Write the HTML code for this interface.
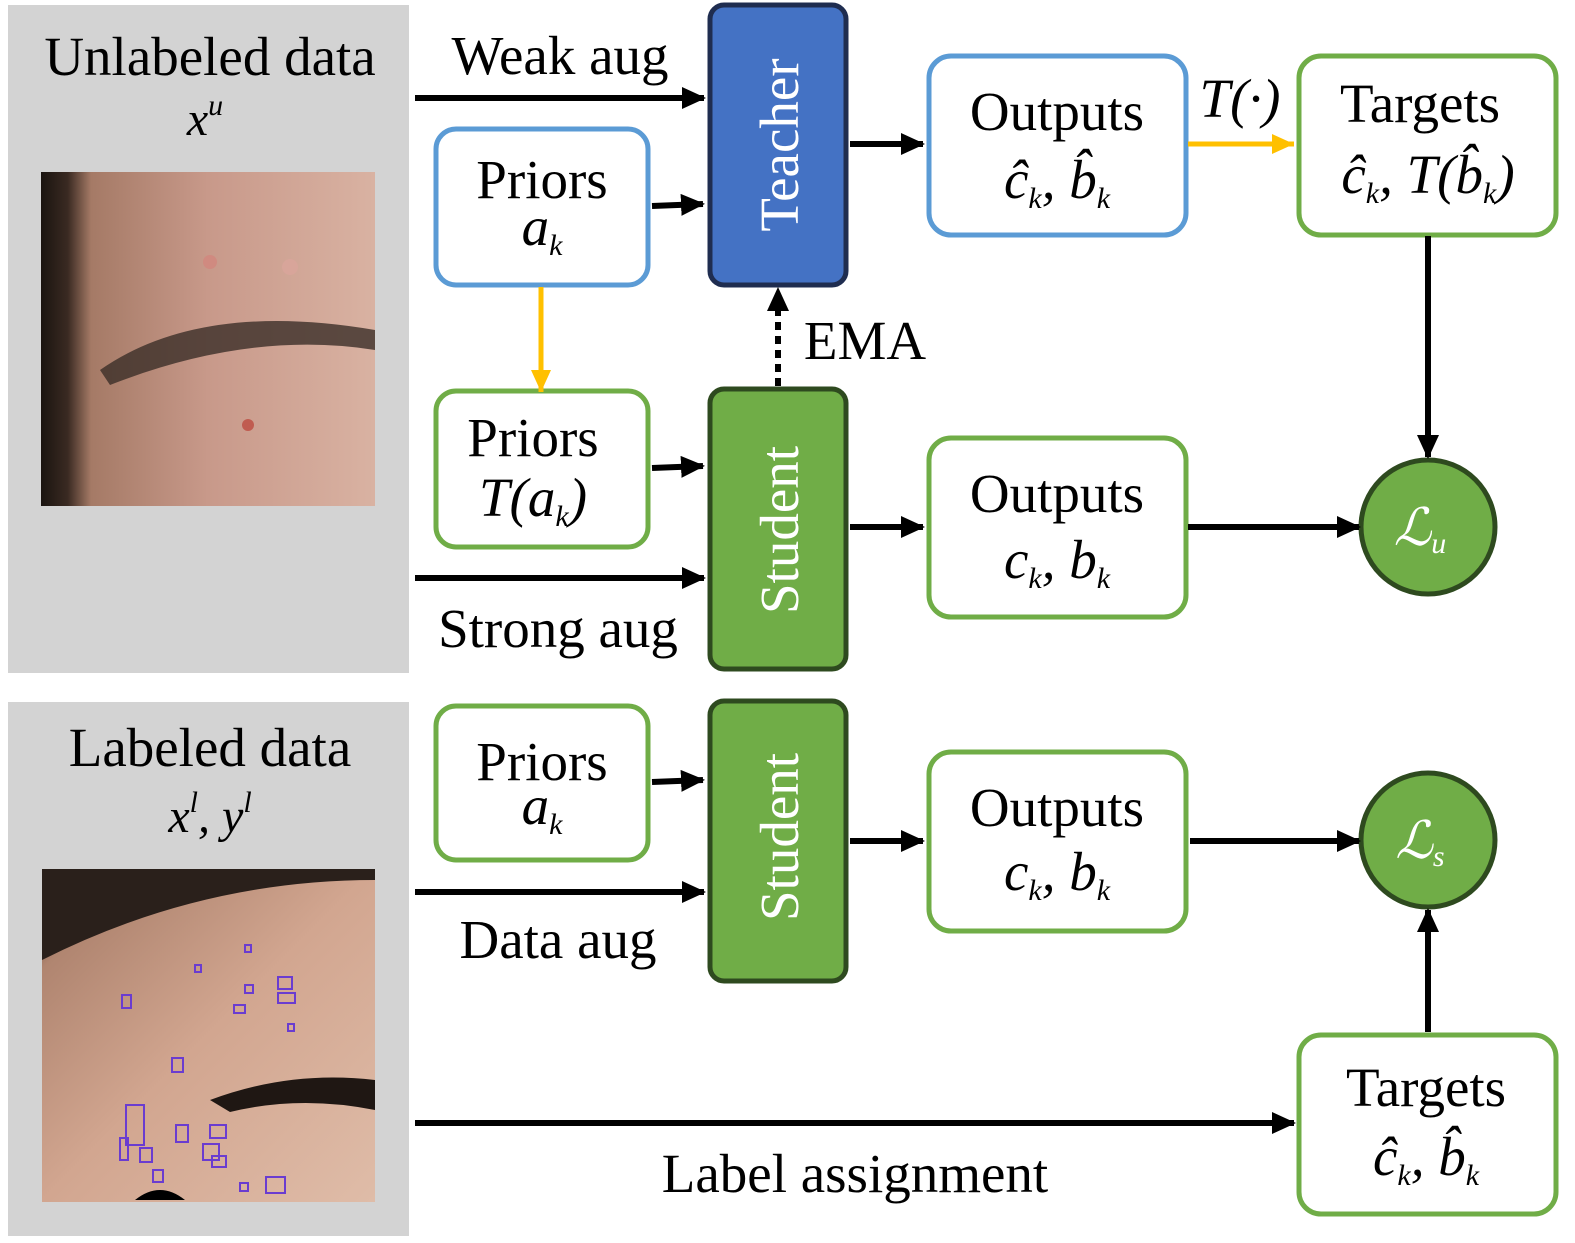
<!DOCTYPE html>
<html><head><meta charset="utf-8"><style>
html,body{margin:0;padding:0;background:#fff;overflow:hidden;width:1575px;height:1243px;}
svg{display:block;}
text{font-family:"Liberation Serif",serif;fill:#000;}
</style></head><body>
<svg width="1575" height="1243" viewBox="0 0 1575 1243" xmlns="http://www.w3.org/2000/svg">
<defs>
<marker id="ab" markerWidth="26" markerHeight="24" refX="22" refY="11" orient="auto" markerUnits="userSpaceOnUse"><path d="M0,0 L24,11 L0,22 z" fill="#000"/></marker>
<marker id="ao" markerWidth="26" markerHeight="24" refX="22" refY="11" orient="auto" markerUnits="userSpaceOnUse"><path d="M0,1 L22,11 L0,21 z" fill="#ffc000"/></marker>
<linearGradient id="skin1" x1="0" y1="0" x2="1" y2="0">
<stop offset="0" stop-color="#1a1410"/><stop offset="0.08" stop-color="#3a2a22"/><stop offset="0.15" stop-color="#a57a66"/><stop offset="0.5" stop-color="#c8998a"/><stop offset="1" stop-color="#d9b2a2"/></linearGradient>
<linearGradient id="skin2" x1="0" y1="0" x2="1" y2="1">
<stop offset="0" stop-color="#3a2a22"/><stop offset="0.15" stop-color="#b08570"/><stop offset="0.5" stop-color="#d2a690"/><stop offset="1" stop-color="#dfbca8"/></linearGradient>
</defs>

<rect x="8" y="5" width="401" height="668" fill="#d3d3d3"/>
<rect x="8" y="702" width="401" height="534" fill="#d3d3d3"/>

<text x="210" y="75" font-size="55" text-anchor="middle">Unlabeled data</text>
<text x="205" y="135" font-size="48" text-anchor="middle" font-style="italic">x<tspan font-size="30" dy="-20">u</tspan></text>
<text x="210" y="766" font-size="55" text-anchor="middle">Labeled data</text>
<text x="210" y="832" font-size="48" text-anchor="middle" font-style="italic">x<tspan font-size="30" dy="-20">l</tspan><tspan dy="20">, y</tspan><tspan font-size="30" dy="-20">l</tspan></text>

<rect x="41" y="172" width="334" height="334" fill="url(#skin1)"/>
<path d="M100,370 Q200,300 375,330 L375,350 Q250,330 110,385 z" fill="#3b2e28" opacity="0.8"/>
<circle cx="210" cy="262" r="7" fill="#d08a80"/><circle cx="290" cy="267" r="8" fill="#d8a59a"/><circle cx="248" cy="425" r="6" fill="#c05c50"/>
<rect x="42" y="869" width="333" height="333" fill="url(#skin2)"/>
<path d="M42,869 L375,869 L375,880 Q200,880 42,960 z" fill="#2a201b"/>
<path d="M210,1100 Q290,1070 375,1080 L375,1110 Q300,1095 230,1112 z" fill="#1f1713"/>
<path d="M135,1200 Q160,1180 185,1200 z" fill="#000"/>
<g fill="none" stroke="#6a3cd0" stroke-width="2">
<rect x="122" y="995" width="9" height="13"/><rect x="172" y="1058" width="11" height="14"/><rect x="126" y="1105" width="18" height="40"/><rect x="120" y="1138" width="8" height="22"/><rect x="140" y="1148" width="12" height="14"/><rect x="176" y="1125" width="12" height="17"/><rect x="210" y="1125" width="16" height="13"/><rect x="203" y="1144" width="16" height="16"/><rect x="212" y="1156" width="14" height="11"/><rect x="153" y="1170" width="10" height="12"/><rect x="266" y="1177" width="19" height="16"/><rect x="240" y="1183" width="8" height="8"/><rect x="278" y="977" width="14" height="12"/><rect x="278" y="993" width="17" height="10"/><rect x="234" y="1005" width="11" height="8"/><rect x="245" y="985" width="8" height="8"/><rect x="245" y="945" width="6" height="7"/><rect x="195" y="965" width="6" height="7"/><rect x="288" y="1024" width="6" height="7"/>
</g>

<g stroke-width="5">
<rect x="710" y="5" width="136" height="280" rx="14" fill="#4472c4" stroke="#1f2d50"/>
<rect x="710" y="389" width="136" height="280" rx="14" fill="#70ad47" stroke="#2e4a1f"/>
<rect x="710" y="701" width="136" height="280" rx="14" fill="#70ad47" stroke="#2e4a1f"/>
<rect x="436" y="129" width="212" height="156" rx="20" fill="#fff" stroke="#5b9bd5"/>
<rect x="436" y="391" width="212" height="156" rx="20" fill="#fff" stroke="#70ad47"/>
<rect x="436" y="706" width="212" height="154" rx="20" fill="#fff" stroke="#70ad47"/>
<rect x="929" y="56" width="257" height="179" rx="22" fill="#fff" stroke="#5b9bd5"/>
<rect x="929" y="438" width="257" height="179" rx="22" fill="#fff" stroke="#70ad47"/>
<rect x="929" y="752" width="257" height="179" rx="22" fill="#fff" stroke="#70ad47"/>
<rect x="1299" y="56" width="257" height="179" rx="22" fill="#fff" stroke="#70ad47"/>
<rect x="1299" y="1035" width="257" height="179" rx="22" fill="#fff" stroke="#70ad47"/>
<circle cx="1428" cy="527" r="67" fill="#70ad47" stroke="#2e4a1f"/>
<circle cx="1428" cy="840" r="67" fill="#70ad47" stroke="#2e4a1f"/>
</g>

<g font-size="55" text-anchor="middle">
<text transform="translate(798,145) rotate(-90)" fill="#fff" style="fill:#fff">Teacher</text>
<text transform="translate(798,530) rotate(-90)" style="fill:#fff">Student</text>
<text transform="translate(798,837) rotate(-90)" style="fill:#fff">Student</text>
</g>
<g font-size="52" text-anchor="middle" font-style="italic">
<text x="1420" y="545" style="fill:#fff">ℒ<tspan font-size="30" dy="8">u</tspan></text>
<text x="1420" y="858" style="fill:#fff">ℒ<tspan font-size="30" dy="8">s</tspan></text>
</g>

<g font-size="55" text-anchor="middle">
<text x="542" y="198">Priors</text>
<text x="542" y="245" font-style="italic">a<tspan font-size="30" dy="10">k</tspan></text>
<text x="533" y="456">Priors</text>
<text x="533" y="516" font-style="italic">T(a<tspan font-size="30" dy="10">k</tspan><tspan dy="-10">)</tspan></text>
<text x="542" y="780">Priors</text>
<text x="542" y="824" font-style="italic">a<tspan font-size="30" dy="10">k</tspan></text>
<text x="1057" y="130">Outputs</text>
<text x="1057" y="198" font-style="italic">ĉ<tspan font-size="30" dy="10">k</tspan><tspan dy="-10">, b̂</tspan><tspan font-size="30" dy="10">k</tspan></text>
<text x="1057" y="512">Outputs</text>
<text x="1057" y="578" font-style="italic">c<tspan font-size="30" dy="10">k</tspan><tspan dy="-10">,  b</tspan><tspan font-size="30" dy="10">k</tspan></text>
<text x="1057" y="826">Outputs</text>
<text x="1057" y="890" font-style="italic">c<tspan font-size="30" dy="10">k</tspan><tspan dy="-10">, b</tspan><tspan font-size="30" dy="10">k</tspan></text>
<text x="1420" y="122">Targets</text>
<text x="1428" y="193" font-style="italic">ĉ<tspan font-size="30" dy="10">k</tspan><tspan dy="-10">, T(b̂</tspan><tspan font-size="30" dy="10">k</tspan><tspan dy="-10">)</tspan></text>
<text x="1426" y="1106">Targets</text>
<text x="1426" y="1175" font-style="italic">ĉ<tspan font-size="30" dy="10">k</tspan><tspan dy="-10">, b̂</tspan><tspan font-size="30" dy="10">k</tspan></text>
<text x="560" y="74">Weak aug</text>
<text x="558" y="647">Strong aug</text>
<text x="558" y="958">Data aug</text>
<text x="855" y="1192">Label assignment</text>
<text x="865" y="359">EMA</text>
<text x="1240" y="117" font-style="italic">T(·)</text>
</g>

<g stroke="#000" stroke-width="6" fill="none" marker-end="url(#ab)">
<line x1="415" y1="98" x2="704" y2="98"/>
<line x1="652" y1="206" x2="703" y2="204"/>
<line x1="850" y1="144" x2="923" y2="144"/>
<line x1="1428" y1="236" x2="1428" y2="457"/>
<line x1="652" y1="468" x2="703" y2="466"/>
<line x1="415" y1="578" x2="704" y2="578"/>
<line x1="850" y1="527" x2="923" y2="527"/>
<line x1="1188" y1="527" x2="1359" y2="527"/>
<line x1="652" y1="782" x2="703" y2="780"/>
<line x1="415" y1="892" x2="704" y2="892"/>
<line x1="850" y1="841" x2="923" y2="841"/>
<line x1="1190" y1="841" x2="1359" y2="841"/>
<line x1="1428" y1="1032" x2="1428" y2="910"/>
<line x1="415" y1="1123" x2="1294" y2="1123"/>
<line x1="778" y1="386" x2="778" y2="289" stroke-dasharray="8,6"/>
</g>
<g stroke="#ffc000" stroke-width="5" fill="none" marker-end="url(#ao)">
<line x1="1188" y1="144" x2="1294" y2="144"/>
<line x1="541" y1="287" x2="541" y2="392"/>
</g>
</svg>
</body></html>
